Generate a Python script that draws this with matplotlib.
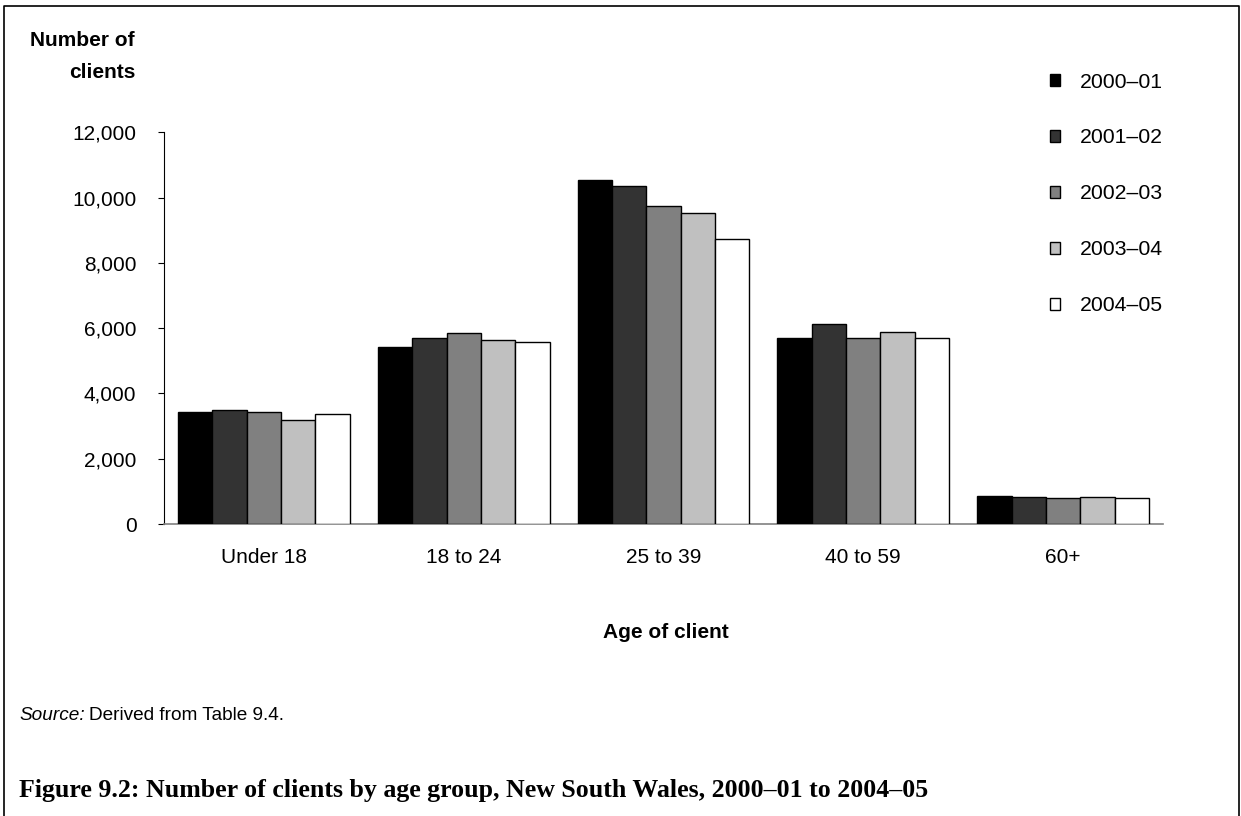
import matplotlib.pyplot as plt
import numpy as np
from matplotlib.lines import Line2D
from matplotlib.patches import Patch
from matplotlib.ticker import FuncFormatter

age_groups = ["Under 18", "18 to 24", "25 to 39", "40 to 59", "60+"]
years = ["2000–01", "2001–02", "2002–03", "2003–04", "2004–05"]

# clients per age group, one list per financial year
clients_2000_01 = [3440, 5410, 10550, 5710, 860]
clients_2001_02 = [3480, 5700, 10360, 6120, 840]
clients_2002_03 = [3420, 5860, 9750, 5690, 790]
clients_2003_04 = [3180, 5640, 9520, 5870, 840]
clients_2004_05 = [3360, 5570, 8730, 5690, 790]

series = [clients_2000_01, clients_2001_02, clients_2002_03, clients_2003_04, clients_2004_05]
fills = ["#000000", "#333333", "#808080", "#C0C0C0", "#FFFFFF"]

plt.rcParams["font.family"] = ["Liberation Sans", "DejaVu Sans"]

W, H = 1241, 816
fig = plt.figure(figsize=(W / 100, H / 100), dpi=100)
ax = fig.add_axes([164 / W, 1 - 524 / H, (1163 - 164) / W, (524 - 132.3) / H])

x = np.arange(len(age_groups))
bar_w = 0.172
for i, (vals, fc) in enumerate(zip(series, fills)):
    ax.bar(x + (i - 2) * bar_w, vals, width=bar_w, color=fc,
           edgecolor="black", linewidth=1.0, label=years[i], zorder=3)

ax.set_xlim(-0.5, len(age_groups) - 0.5)
ax.set_ylim(0, 12000)
ax.set_yticks(range(0, 12001, 2000))
ax.yaxis.set_major_formatter(FuncFormatter(lambda v, _: f"{int(v):,}"))
ax.set_xticks(x)
ax.set_xticklabels(age_groups)

for side in ("top", "right"):
    ax.spines[side].set_visible(False)
ax.spines["left"].set_color("black")
ax.spines["left"].set_linewidth(0.8)
ax.spines["bottom"].set_color("#808080")
ax.spines["bottom"].set_linewidth(1.2)

ax.tick_params(axis="y", direction="out", length=4.3, width=0.8, pad=15.5, labelsize=15)
ax.tick_params(axis="x", length=0, pad=17, labelsize=15)

fig.text(135 / W, 1 - 56.5 / H, "Number of\nclients", ha="right", va="center",
         fontsize=15, fontweight="bold", linespacing=1.87)
fig.text(666 / W, 1 - 633 / H, "Age of client", ha="center", va="center",
         fontsize=15, fontweight="bold")

handles = [Patch(facecolor=fc, edgecolor="black", linewidth=1.0) for fc in fills]
fig.legend(handles, years, loc="upper left", bbox_to_anchor=(1049.5 / W, 1 - 72.5 / H),
           frameon=False, fontsize=15.3, handlelength=0.5, handleheight=0.5,
           handletextpad=0.95, labelspacing=1.74, borderaxespad=0, borderpad=0)

src = fig.text(19 / W, 1 - 715 / H, "Source:", ha="left", va="center",
               fontsize=13.7, style="italic")
fig.canvas.draw()
bb = src.get_window_extent()
fig.text(bb.x1 / W + 4 / W, 1 - 715 / H, "Derived from Table 9.4.", ha="left",
         va="center", fontsize=13.7)

fig.text(19 / W, 1 - 791 / H,
         "Figure 9.2: Number of clients by age group, New South Wales, 2000–01 to 2004–05",
         ha="left", va="center", fontsize=18.65, fontweight="bold",
         family=["Liberation Serif", "DejaVu Serif"])

# open page frame: left, top and right edges
frame = Line2D([4 / W, 4 / W, 1239 / W, 1239 / W], [0, 1 - 6 / H, 1 - 6 / H, 0],
               transform=fig.transFigure, color="black", linewidth=1.2)
fig.add_artist(frame)

fig.savefig("out.png", dpi=100)
